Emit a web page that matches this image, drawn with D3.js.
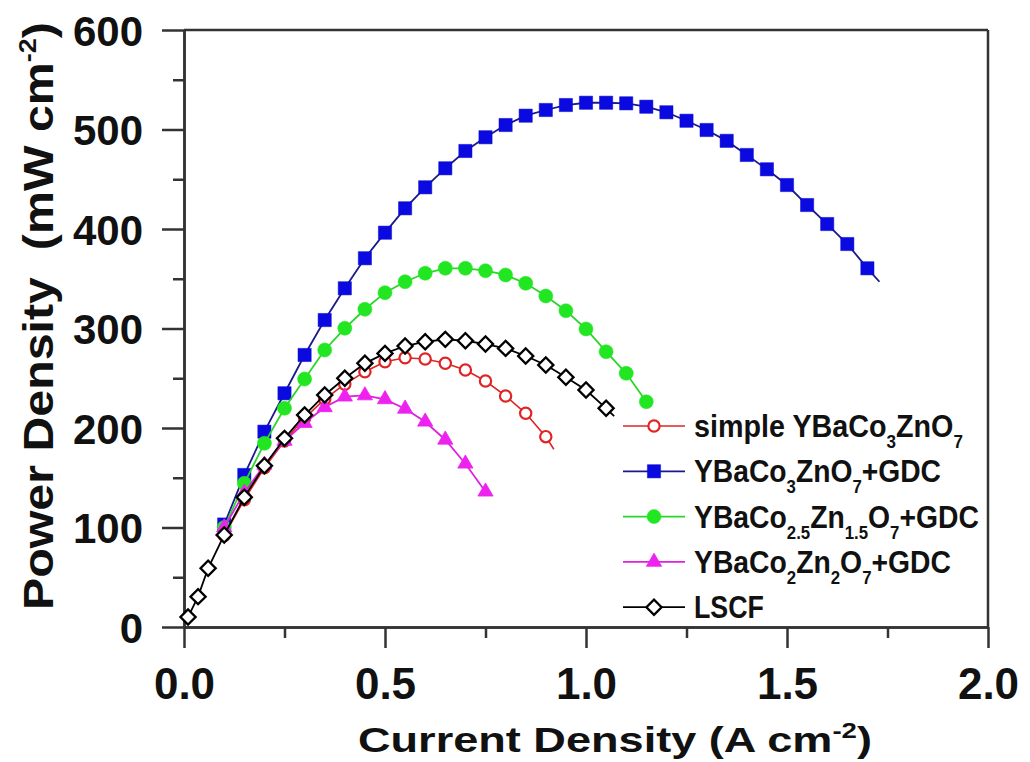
<!DOCTYPE html>
<html><head><meta charset="utf-8">
<script src="https://cdn.jsdelivr.net/npm/d3@7"></script>
<style>
body{margin:0;background:#fff}
svg{display:block}
text{font-family:"Liberation Sans",Arial,sans-serif;font-weight:bold;fill:#111}
</style>
</head><body>
<svg id="chart" width="1030" height="762"></svg>
<script>
// ---- tick data ----
const xTickValues = [0, 0.5, 1.0, 1.5, 2.0];
const xTickLabels = ["0.0", "0.5", "1.0", "1.5", "2.0"];
const xMinorValues = [0.25, 0.75, 1.25, 1.75];
const yTickValues = [0, 100, 200, 300, 400, 500, 600];
const yTickLabels = ["0", "100", "200", "300", "400", "500", "600"];
const yMinorValues = [50, 150, 250, 350, 450, 550];

// ---- series data (current density A cm-2, power density mW cm-2) ----
const xRed = [0.10,0.15,0.20,0.25,0.30,0.35,0.40,0.45,0.50,0.55,0.60,0.65,0.70,0.75,0.80,0.85,0.90,0.92];
const yRed = [92,128,160,187,210,229,244,256.6,266.6,270.6,269.3,265,258.3,247.2,232.2,214.8,191.3,178.6];
const tailRed = true;

const xBlue = [0.10,0.15,0.20,0.25,0.30,0.35,0.40,0.45,0.50,0.55,0.60,0.65,0.70,0.75,0.80,0.85,0.90,0.95,1.00,1.05,1.10,1.15,1.20,1.25,1.30,1.35,1.40,1.45,1.50,1.55,1.60,1.65,1.70,1.73];
const yBlue = [103,152.8,196.3,234.9,273.4,308.5,340.4,370.6,396.3,420.8,441.9,461,478.4,492.2,504.5,513.9,519.6,524.6,526.9,526.9,526.3,522.9,517.3,508.8,499.5,488.6,474.4,460,444.2,424.1,405,384.9,360.5,347];
const tailBlue = true;

const xGreen = [0.10,0.15,0.20,0.25,0.30,0.35,0.40,0.45,0.50,0.55,0.60,0.65,0.70,0.75,0.80,0.85,0.90,0.95,1.00,1.05,1.10,1.15];
const yGreen = [100,144.4,184.6,219.8,249.2,278.4,300.2,319.3,336,347,355.5,360.5,360.5,358.1,353.8,345.4,332.7,317.9,299.5,276.7,255,226.4];
const tailGreen = false;

const xMagenta = [0.10,0.15,0.20,0.25,0.30,0.35,0.40,0.45,0.50,0.55,0.60,0.65,0.70,0.75];
const yMagenta = [100,135,163,187,205,220.8,231.5,232.7,228.8,219.3,206.3,188.2,164.1,136];
const tailMagenta = false;

const xLSCF = [0.01,0.035,0.06,0.10,0.15,0.20,0.25,0.30,0.35,0.40,0.45,0.50,0.55,0.60,0.65,0.70,0.75,0.80,0.85,0.90,0.95,1.00,1.05,1.07];
const yLSCF = [10,30.5,59,92.5,130.4,162,189.6,213,233.2,250,265,275,282.4,286.7,289.1,287.7,284.4,280,272.4,263.3,251,238.2,219.8,212];
const tailLSCF = true;

// ---- legend labels (segments: normal / subscript) ----
const labelRed = [["simple YBaCo"],["3","sub"],["ZnO"],["7","sub"]];
const labelBlue = [["YBaCo"],["3","sub"],["ZnO"],["7","sub"],["+GDC"]];
const labelGreen = [["YBaCo"],["2.5","sub"],["Zn"],["1.5","sub"],["O"],["7","sub"],["+GDC"]];
const labelMagenta = [["YBaCo"],["2","sub"],["Zn"],["2","sub"],["O"],["7","sub"],["+GDC"]];
const labelLSCF = [["LSCF"]];

const xTitle = [["Current Density (A cm"],["-2","sup"],[")"]];
const yTitle = [["Power Density\u00A0 (mW cm"],["-2","sup"],[")"]];

// ---- layout ----
const svg = d3.select("#chart");
const L = 184, R = 988, T = 30, B = 627;
const x = d3.scaleLinear().domain([0, 2]).range([L, R]);
const y = d3.scaleLinear().domain([0, 600]).range([B, T]);
const axisColor = "#333";

function richText(sel, segs, subSize, shift) {
  let cur = 0;
  segs.forEach(s => {
    const t = sel.append("tspan").text(s[0]);
    let target = 0;
    if (s[1] === "sub") { t.attr("font-size", subSize); target = shift; }
    else if (s[1] === "sup") { t.attr("font-size", subSize); target = -shift; }
    if (target !== cur) { t.attr("dy", target - cur); cur = target; }
  });
}
// place a rich text at (px,py) with rotation, horizontally scaled to a target width
function fitText(parent, segs, px, py, rot, size, subSize, shift, width) {
  const g = parent.append("g");
  const t = g.append("text").attr("font-size", size);
  richText(t, segs, subSize, shift);
  const w = t.node().getComputedTextLength();
  const sx = w > 0 ? width / w : 1;
  g.attr("transform", `translate(${px},${py}) rotate(${rot}) scale(${sx},1)`);
  return g;
}

// frame (top & right)
svg.append("line").attr("x1", L).attr("x2", R).attr("y1", T).attr("y2", T)
  .attr("stroke", axisColor).attr("stroke-width", 2.5);
svg.append("line").attr("x1", R).attr("x2", R).attr("y1", T).attr("y2", B)
  .attr("stroke", axisColor).attr("stroke-width", 2.5);

// axes
const gx = svg.append("g").attr("transform", `translate(0,${B})`)
  .call(d3.axisBottom(x).tickValues(xTickValues).tickSize(21).tickSizeOuter(0).tickPadding(20)
    .tickFormat((d, i) => xTickLabels[i]));
const gxm = svg.append("g").attr("transform", `translate(0,${B})`)
  .call(d3.axisBottom(x).tickValues(xMinorValues).tickSize(11).tickSizeOuter(0).tickFormat(""));
const gy = svg.append("g").attr("transform", `translate(${L},0)`)
  .call(d3.axisLeft(y).tickValues(yTickValues).tickSize(22).tickSizeOuter(0).tickPadding(19)
    .tickFormat((d, i) => yTickLabels[i]));
const gym = svg.append("g").attr("transform", `translate(${L},0)`)
  .call(d3.axisLeft(y).tickValues(yMinorValues).tickSize(11).tickSizeOuter(0).tickFormat(""));

[gx, gxm, gy, gym].forEach(g => {
  g.selectAll("path, line").attr("stroke", axisColor).attr("stroke-width", 2.5);
});
gx.selectAll("text").attr("font-size", 44).attr("fill", "#111")
  .attr("font-family", '"Liberation Sans", Arial, sans-serif').attr("font-weight", "bold");
gy.selectAll("text").attr("font-size", 42).attr("fill", "#111").attr("dy", "0.36em")
  .attr("font-family", '"Liberation Sans", Arial, sans-serif').attr("font-weight", "bold");

// titles
fitText(svg, xTitle, 358, 752, 0, 36, 22, 14, 514);
fitText(svg, yTitle, 53, 610, -90, 43, 24, 17, 588);

// series
const squareSym = d3.symbol().type(d3.symbolSquare).size(175);
const diamondSym = d3.symbol().type(d3.symbolSquare).size(115);
const circleSym = d3.symbol().type(d3.symbolCircle).size(155);
const openCircleSym = d3.symbol().type(d3.symbolCircle).size(100);
const triSym = d3.symbol().type(d3.symbolTriangle).size(100);

const series = [
  {xs: xRed, ys: yRed, tail: tailRed, label: labelRed, line: "#e02424", lw: 1.6,
   sym: openCircleSym, fill: "#fff", stroke: "#e02424", sw: 2.2, rot: 0, tl: 269},
  {xs: xBlue, ys: yBlue, tail: tailBlue, label: labelBlue, line: "#1a1a8c", lw: 1.8,
   sym: squareSym, fill: "#0a0ae0", stroke: "#0a0ad0", sw: 0.5, rot: 0, tl: 247},
  {xs: xGreen, ys: yGreen, tail: tailGreen, label: labelGreen, line: "#2ad62a", lw: 1.8,
   sym: circleSym, fill: "#22e622", stroke: "#22e622", sw: 0.5, rot: 0, tl: 285},
  {xs: xMagenta, ys: yMagenta, tail: tailMagenta, label: labelMagenta, line: "#e020e0", lw: 1.8,
   sym: triSym, fill: "#ee22ee", stroke: "#ee22ee", sw: 0.8, rot: 0, tl: 257},
  {xs: xLSCF, ys: yLSCF, tail: tailLSCF, label: labelLSCF, line: "#000", lw: 1.8,
   sym: diamondSym, fill: "#fff", stroke: "#000", sw: 2.3, rot: 45, tl: 70}
];

const lineGen = d3.line().x(d => x(d[0])).y(d => y(d[1]));

series.forEach(s => {
  const pts = s.xs.map((v, i) => [v, s.ys[i]]);
  const g = svg.append("g");
  g.append("path").attr("d", lineGen(pts)).attr("fill", "none")
    .attr("stroke", s.line).attr("stroke-width", s.lw);
  const marked = s.tail ? pts.slice(0, -1) : pts;
  g.selectAll("path.m").data(marked).join("path").attr("class", "m")
    .attr("d", s.sym())
    .attr("transform", d => `translate(${x(d[0])},${y(d[1])}) rotate(${s.rot})`)
    .attr("fill", s.fill).attr("stroke", s.stroke).attr("stroke-width", s.sw);
});

// legend
const legY0 = 426, legDy = 45.3;
series.forEach((s, i) => {
  const cy = legY0 + i * legDy;
  const g = svg.append("g");
  g.append("line").attr("x1", 623).attr("x2", 685).attr("y1", cy).attr("y2", cy)
    .attr("stroke", s.line).attr("stroke-width", s.lw);
  g.append("path").attr("d", s.sym())
    .attr("transform", `translate(654,${cy}) rotate(${s.rot})`)
    .attr("fill", s.fill).attr("stroke", s.stroke).attr("stroke-width", s.sw);
  fitText(g, s.label, 694, cy + 11, 0, 32, 19, 11, s.tl);
});
</script>
</body></html>
